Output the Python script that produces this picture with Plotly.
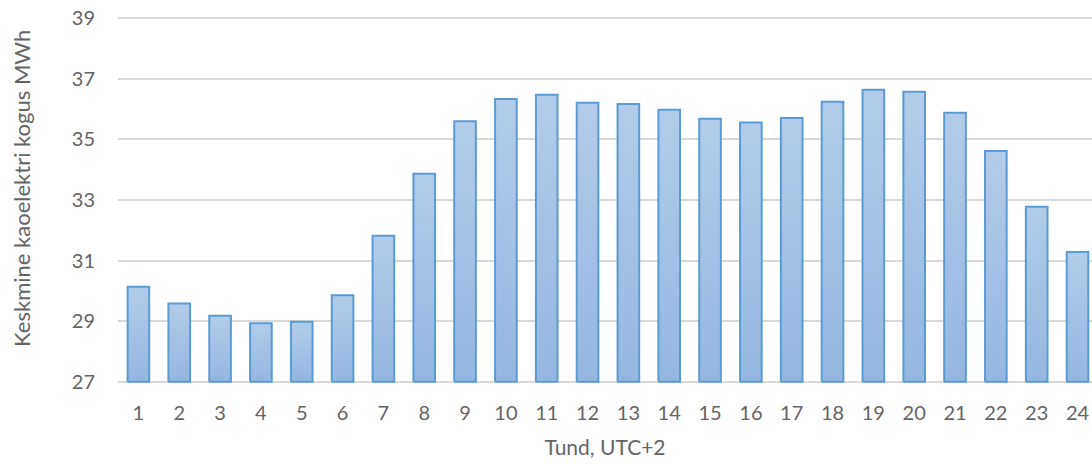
import plotly.graph_objects as go

# Hourly average grid-loss volume (MWh), hours 1..24 in UTC+2
hours = list(range(1, 25))
loss_mwh = [30.14, 29.58, 29.18, 28.93, 28.98, 29.86, 31.82, 33.87,
            35.60, 36.33, 36.47, 36.21, 36.17, 35.98, 35.68, 35.56,
            35.71, 36.24, 36.64, 36.57, 35.88, 34.62, 32.78, 31.28]
y_ticks = [27, 29, 31, 33, 35, 37, 39]

BASE = 27
HALF_W = 0.265
EDGE = "#5b9bd5"
TEXT = "#646464"
GRID = "#d9d9d9"
FONT = "Lato, 'Open Sans', sans-serif"

fig = go.Figure()

# each column is a closed filled shape with a vertical light-to-darker gradient
for h, v in zip(hours, loss_mwh):
    fig.add_trace(go.Scatter(
        x=[h - HALF_W, h - HALF_W, h + HALF_W, h + HALF_W, h - HALF_W],
        y=[BASE, v, v, BASE, BASE],
        mode="lines",
        fill="toself",
        fillgradient=dict(
            type="vertical",
            colorscale=[[0, "#93b7e1"], [1, "#b3cceb"]],
        ),
        line=dict(color=EDGE, width=2),
        showlegend=False,
        hoverinfo="skip",
    ))

# vertical axis caption placed beside the tick labels
fig.add_annotation(
    text="Keskmine kaoelektri kogus MWh",
    textangle=-90,
    xref="paper", yref="paper",
    x=-0.0986, y=0.533,
    xanchor="center", yanchor="middle",
    showarrow=False,
    font=dict(size=22, color=TEXT, family=FONT),
)

fig.update_layout(
    width=1092,
    height=464,
    margin=dict(l=118, r=0, t=17, b=81),
    paper_bgcolor="white",
    plot_bgcolor="white",
    font=dict(family=FONT, color=TEXT, size=20),
    xaxis=dict(
        range=[0.5, 0.5 + 974 / 40.83],
        tickmode="array",
        tickvals=hours,
        ticktext=[str(h) for h in hours],
        showgrid=False,
        zeroline=False,
        showline=False,
        ticks="",
        ticklabelstandoff=16,
        tickfont=dict(size=20, color=TEXT),
        title=dict(text="Tund, UTC+2", font=dict(size=21, color=TEXT), standoff=17),
    ),
    yaxis=dict(
        range=[26.96, 39.04],
        tickmode="array",
        tickvals=y_ticks,
        showgrid=True,
        gridcolor=GRID,
        gridwidth=1.5,
        zeroline=False,
        showline=False,
        ticks="",
        ticklabelstandoff=22,
        tickfont=dict(size=20, color=TEXT),
    ),
)

fig.write_html("out.html")
